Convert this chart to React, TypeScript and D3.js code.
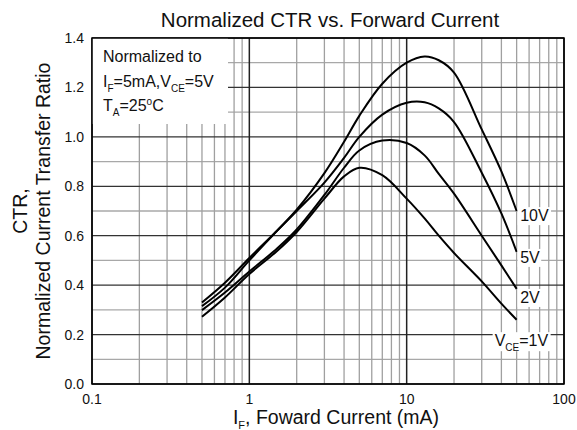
import * as d3 from 'd3';

const VW = 577;
const VH = 430;
const MARGIN = { top: 38, right: 13, bottom: 46, left: 92 };
const W = VW - MARGIN.left - MARGIN.right;
const H = VH - MARGIN.top - MARGIN.bottom;

const FONT = '"Liberation Sans", Arial, Helvetica, sans-serif';

// forward current, mA (sample points)
const IF_MA = [0.5, 0.7, 1, 1.5, 2, 3, 4, 5, 7, 10, 13, 16, 20, 30, 40, 50];

// normalized CTR per VCE
const CTR_10V = [0.315, 0.39, 0.5, 0.62, 0.705, 0.853, 0.98, 1.085, 1.215, 1.3, 1.325, 1.31, 1.26, 1.03, 0.86, 0.7];
const CTR_5V = [0.33, 0.41, 0.51, 0.62, 0.7, 0.815, 0.915, 1.0, 1.09, 1.138, 1.14, 1.115, 1.06, 0.855, 0.69, 0.535];
const CTR_2V = [0.299, 0.37, 0.455, 0.548, 0.625, 0.765, 0.875, 0.945, 0.985, 0.975, 0.925, 0.85, 0.77, 0.6, 0.48, 0.385];
const CTR_1V = [0.272, 0.35, 0.445, 0.538, 0.615, 0.75, 0.84, 0.875, 0.845, 0.75, 0.67, 0.6, 0.53, 0.415, 0.325, 0.26];

const SERIES = [
  { key: '10V', values: CTR_10V, labelY: 0.659 },
  { key: '5V', values: CTR_5V, labelY: 0.49 },
  { key: '2V', values: CTR_2V, labelY: 0.328 },
  { key: '1V', values: CTR_1V, labelY: 0.153 },
];

const X_TICKS = [0.1, 1, 10, 100];
const X_TICK_LABELS = ['0.1', '1', '10', '100'];
const Y_TICKS = [0, 0.2, 0.4, 0.6, 0.8, 1.0, 1.2, 1.4];

const xScale = d3.scaleLog().domain([0.1, 100]).range([0, W]);
const yScale = d3.scaleLinear().domain([0, 1.4]).range([H, 0]);

const xMinor = xScale.ticks().filter(v => !X_TICKS.includes(v));
const yMinor = yScale.ticks(14).filter(v => !Y_TICKS.some(t => Math.abs(t - v) < 1e-6));

const line = d3.line<number>()
  .x((_, i) => xScale(IF_MA[i]))
  .y(v => yScale(v))
  .curve(d3.curveCatmullRom.alpha(0.5));

const fmt = d3.format('.1f');

export default function App() {
  const xEnd = xScale(IF_MA[IF_MA.length - 1]);
  return (
    <svg width={VW} height={VH} viewBox={`0 0 ${VW} ${VH}`}
      style={{ position: 'fixed', left: 0, top: 0, background: '#fff', display: 'block' }}
      fontFamily={FONT}>
      <rect x={0} y={0} width={VW} height={VH} fill="#fff" />
      <text x={330} y={27} textAnchor="middle" fontSize={20.5} fill="#111">
        Normalized CTR vs. Forward Current
      </text>

      <g transform={`translate(${MARGIN.left},${MARGIN.top})`}>
        {/* minor grid */}
        {yMinor.map(v => (
          <line key={`ym${v}`} x1={0} x2={W} y1={yScale(v)} y2={yScale(v)} stroke="#a8a8a8" strokeWidth={1.3} />
        ))}
        {xMinor.map(v => (
          <line key={`xm${v}`} x1={xScale(v)} x2={xScale(v)} y1={0} y2={H} stroke="#a0a0a0" strokeWidth={1.3} />
        ))}
        {/* major grid */}
        {Y_TICKS.map(v => (
          <line key={`yM${v}`} x1={0} x2={W} y1={yScale(v)} y2={yScale(v)} stroke="#333" strokeWidth={1.3} />
        ))}
        {X_TICKS.map(v => (
          <line key={`xM${v}`} x1={xScale(v)} x2={xScale(v)} y1={0} y2={H} stroke="#222" strokeWidth={1.5} />
        ))}

        {/* legend box hides the grid */}
        <rect x={0} y={0} width={136} height={86} fill="#fff" />
        <text x={11} y={24} fontSize={16} fill="#111">Normalized to</text>
        <text x={11} y={49} fontSize={16} fill="#111">
          I<tspan fontSize={10} dy={5}>F</tspan>
          <tspan dy={-5}>=5mA,V</tspan>
          <tspan fontSize={10} dy={5}>CE</tspan>
          <tspan dy={-5}>=5V</tspan>
        </text>
        <text x={11} y={73} fontSize={16} fill="#111">
          T<tspan fontSize={10} dy={5}>A</tspan>
          <tspan dy={-5}>=25</tspan>
          <tspan fontSize={10} dy={-6}>o</tspan>
          <tspan dy={6}>C</tspan>
        </text>

        {/* curves */}
        {SERIES.map(s => (
          <path key={s.key} d={line(s.values) ?? ''} fill="none" stroke="#000" strokeWidth={2} />
        ))}

        {/* curve labels */}
        {SERIES.map(s => {
          const y = yScale(s.labelY);
          if (s.key === '1V') {
            return (
              <g key={`l${s.key}`}>
                <rect x={xEnd - 24} y={y - 14} width={58} height={19} fill="#fff" />
                <text x={xEnd - 22} y={y} fontSize={16} fill="#111">
                  V<tspan fontSize={10} dy={5}>CE</tspan>
                  <tspan dy={-5}>=1V</tspan>
                </text>
              </g>
            );
          }
          const w = s.key.length * 9.8 + 4;
          return (
            <g key={`l${s.key}`}>
              <rect x={xEnd + 1} y={y - 14} width={w} height={18} fill="#fff" />
              <text x={xEnd + 3.5} y={y} fontSize={16} fill="#111">{s.key}</text>
            </g>
          );
        })}

        {/* frame */}
        <rect x={0} y={0} width={W} height={H} fill="none" stroke="#000" strokeWidth={1.5} />

        {/* tick labels */}
        {Y_TICKS.map(v => (
          <text key={`yl${v}`} x={-8} y={yScale(v)} dy="0.36em" textAnchor="end" fontSize={14} fill="#111">
            {fmt(v)}
          </text>
        ))}
        {X_TICKS.map((v, i) => (
          <text key={`xl${v}`} x={xScale(v)} y={H + 20} textAnchor="middle" fontSize={14} fill="#111">
            {X_TICK_LABELS[i]}
          </text>
        ))}

        {/* axis titles */}
        <text x={W / 2 + 8} y={H + 40} textAnchor="middle" fontSize={19.5} fill="#111">
          I<tspan fontSize={11} dy={5}>F</tspan>
          <tspan dy={-5}>, Foward Current (mA)</tspan>
        </text>
        <text transform={`translate(${27 - MARGIN.left},${H / 2}) rotate(-90)`} textAnchor="middle" fontSize={19.5} fill="#111">
          CTR,
        </text>
        <text transform={`translate(${50 - MARGIN.left},${H / 2}) rotate(-90)`} textAnchor="middle" fontSize={19.5} fill="#111">
          Normalized Current Transfer Ratio
        </text>
      </g>
    </svg>
  );
}
